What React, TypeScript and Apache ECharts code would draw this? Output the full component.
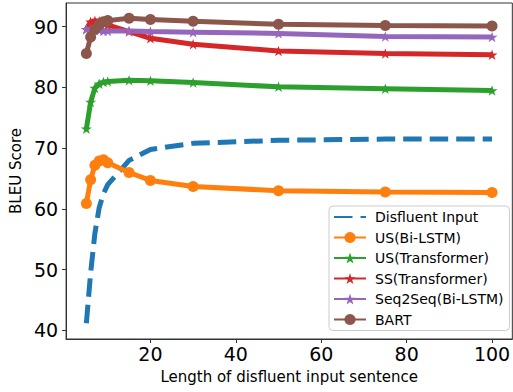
import React, { useEffect, useRef } from "react";
import * as echarts from "echarts";

const lengths = [5, 6, 7, 8, 9, 10, 15, 20, 30, 50, 75, 100];
const disfluentInput = [41.2, 49.5, 56, 60.2, 62.5, 64, 68, 69.8, 70.8, 71.3, 71.5, 71.5];
const usBiLstm = [60.9, 64.8, 67.2, 67.9, 68.1, 67.6, 66.0, 64.7, 63.7, 63.0, 62.8, 62.7];
const usTransformer = [73.2, 77.6, 79.9, 80.6, 80.9, 81.0, 81.2, 81.1, 80.8, 80.1, 79.8, 79.5];
const ssTransformer = [89.6, 90.8, 91.0, 90.9, 90.7, 90.3, 89.2, 88.1, 87.1, 86.0, 85.6, 85.4];
const seq2seqBiLstm = [89.6, 89.5, 89.4, 89.4, 89.3, 89.3, 89.3, 89.2, 89.1, 88.9, 88.4, 88.3];
const bart = [85.6, 88.3, 89.6, 90.3, 90.8, 91.0, 91.4, 91.2, 90.9, 90.4, 90.2, 90.1];

const xTicks = [20, 40, 60, 80, 100];
const yTicks = [40, 50, 60, 70, 80, 90];

const STAR =
  "path://M50 0 L61.23 34.55 L97.55 34.55 L68.17 55.9 L79.39 90.45 L50 69.1 L20.61 90.45 L31.83 55.9 L2.45 34.55 L38.77 34.55 Z";

const FONT = "DejaVu Sans";

function pairs(ys: number[]) {
  return lengths.map((x, i) => [x, ys[i]]);
}

export default function App() {
  const ref = useRef<HTMLDivElement>(null);
  useEffect(() => {
    if (!ref.current) return;
    const chart = echarts.init(ref.current, undefined, { renderer: "svg" });
    const mk = (name: string, ys: number[], color: string, symbol: string, size: number) => ({
      name,
      type: "line",
      data: pairs(ys),
      symbol,
      symbolSize: size,
      symbolKeepAspect: true,
      showSymbol: true,
      lineStyle: { color, width: 5 },
      itemStyle: { color },
      emphasis: { disabled: true },
    });
    chart.setOption({
      animation: false,
      textStyle: { fontFamily: FONT },
      grid: {
        left: 62,
        top: 3,
        right: -1,
        bottom: 53,
        show: true,
        borderColor: "#333",
        borderWidth: 1,
        containLabel: false,
      },
      legend: {
        orient: "vertical",
        left: 329,
        top: 206,
        itemWidth: 32,
        itemHeight: 14,
        itemGap: 6.5,
        padding: [4, 6, 4, 4],
        borderColor: "#ccc",
        borderWidth: 1,
        borderRadius: 4,
        backgroundColor: "rgba(255,255,255,0.8)",
        textStyle: { fontSize: 14, color: "#000", fontFamily: FONT, padding: [0, 0, 0, 4] },
        data: [
          { name: "Disfluent Input", itemStyle: { color: "rgba(0,0,0,0)", borderWidth: 0 } },
          "US(Bi-LSTM)",
          "US(Transformer)",
          "SS(Transformer)",
          "Seq2Seq(Bi-LSTM)",
          "BART",
        ],
      },
      xAxis: {
        type: "value",
        min: 0.25,
        max: 104.75,
        name: "Length of disfluent input sentence",
        nameLocation: "middle",
        nameGap: 30,
        nameTextStyle: { fontSize: 15, color: "#000", fontFamily: FONT },
        axisLine: { show: true, lineStyle: { color: "#333", width: 1 } },
        axisTick: { show: true, length: 4, lineStyle: { color: "#333" }, customValues: xTicks },
        axisLabel: { fontSize: 19, color: "#000", margin: 5, fontFamily: FONT, customValues: xTicks },
        splitLine: { show: false },
      },
      yAxis: {
        type: "value",
        min: 38.6,
        max: 93.9,
        name: "BLEU Score",
        nameLocation: "middle",
        nameGap: 40,
        nameTextStyle: { fontSize: 15, color: "#000", fontFamily: FONT },
        axisLine: { show: true, lineStyle: { color: "#333", width: 1 } },
        axisTick: { show: true, length: 4, lineStyle: { color: "#333" }, customValues: yTicks },
        axisLabel: { fontSize: 19, color: "#000", margin: 8, fontFamily: FONT, customValues: yTicks },
        splitLine: { show: false },
      },
      series: [
        {
          name: "Disfluent Input",
          type: "line",
          data: pairs(disfluentInput),
          showSymbol: false,
          symbol: "circle",
          symbolSize: 0,
          lineStyle: { color: "#1f77b4", width: 5, type: [18.5, 8] },
          itemStyle: { color: "#1f77b4" },
          emphasis: { disabled: true },
        },
        mk("US(Bi-LSTM)", usBiLstm, "#ff7f0e", "circle", 11),
        mk("US(Transformer)", usTransformer, "#2ca02c", STAR, 11),
        mk("SS(Transformer)", ssTransformer, "#d62728", STAR, 11),
        mk("Seq2Seq(Bi-LSTM)", seq2seqBiLstm, "#9467bd", STAR, 11),
        mk("BART", bart, "#8c564b", "circle", 11),
      ],
    });
    return () => chart.dispose();
  }, []);
  return (
    <div
      ref={ref}
      style={{ position: "fixed", left: 0, top: 0, width: 513, height: 392, background: "#fff" }}
    />
  );
}
